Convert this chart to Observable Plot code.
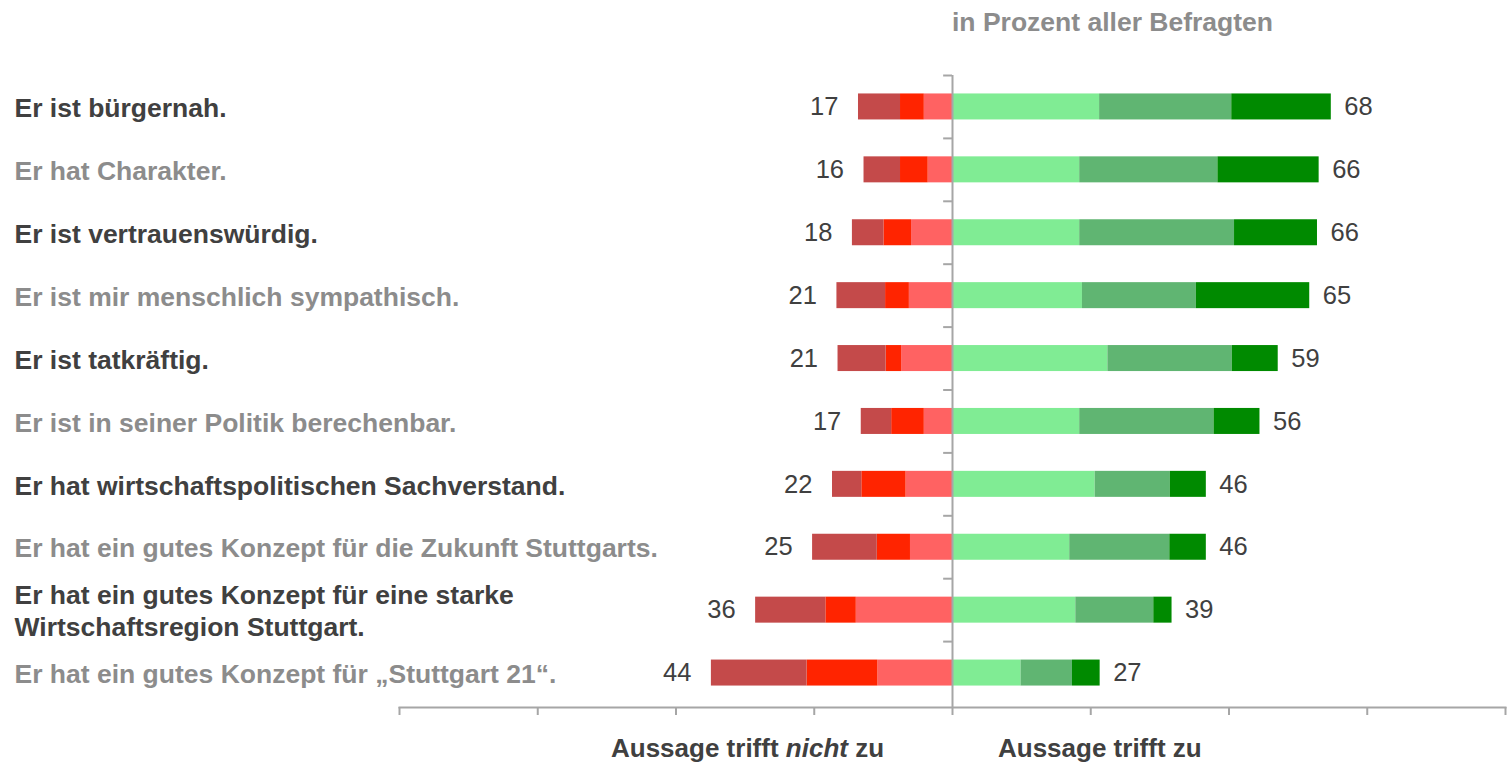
<!DOCTYPE html>
<html>
<head>
<meta charset="utf-8">
<script src="https://cdn.jsdelivr.net/npm/d3@7"></script>
<script src="https://cdn.jsdelivr.net/npm/@observablehq/plot@0.6"></script>
<style>
  body { margin: 0; background: #fff; font-family: "Liberation Sans", Arial, sans-serif; }
  #wrap { position: relative; width: 1508px; height: 762px; overflow: hidden; }
  #head { position: relative; height: 44px; }
  #head span { position: absolute; left: 952px; top: 9px; font-size: 26.5px; line-height: 26px; font-weight: bold; color: #8c8c8c; white-space: nowrap; }
  #foot { position: relative; height: 38px; }
  #foot span { position: absolute; top: 11px; font-size: 26px; line-height: 26px; font-weight: bold; color: #404040; white-space: nowrap; }
  #chart svg { display: block; }
</style>
</head>
<body>
<div id="wrap">
  <div id="head"><span>in Prozent aller Befragten</span></div>
  <div id="chart"></div>
  <div id="foot">
    <span style="left:611px">Aussage trifft <i>nicht</i> zu</span>
    <span style="left:998px">Aussage trifft zu</span>
  </div>
</div>
<script>
const categories = [
  "Er ist bürgernah.",
  "Er hat Charakter.",
  "Er ist vertrauenswürdig.",
  "Er ist mir menschlich sympathisch.",
  "Er ist tatkräftig.",
  "Er ist in seiner Politik berechenbar.",
  "Er hat wirtschaftspolitischen Sachverstand.",
  "Er hat ein gutes Konzept für die Zukunft Stuttgarts.",
  "Er hat ein gutes Konzept für eine starke\nWirtschaftsregion Stuttgart.",
  "Er hat ein gutes Konzept für „Stuttgart 21“."
];
const totalsNeg = [17, 16, 18, 21, 21, 17, 22, 25, 36, 44];
const totalsPos = [68, 66, 66, 65, 59, 56, 46, 46, 39, 27];

// negative side (from centre outwards)
const lightRed  = [5.1, 4.4, 7.4, 7.8, 9.2, 5.1, 8.4, 7.6, 17.4, 13.5];
const red       = [4.3, 5.0, 5.0, 4.3, 2.8, 5.9, 8.0, 6.0, 5.5, 12.8];
const darkRed   = [7.6, 6.6, 5.7, 8.8, 8.7, 5.5, 5.3, 11.7, 12.7, 17.3];
// positive side (from centre outwards)
const lightGreen = [26.6, 23.0, 23.0, 23.5, 28.1, 23.0, 25.8, 21.2, 22.3, 12.4];
const midGreen   = [23.9, 25.0, 28.0, 20.6, 22.5, 24.3, 13.6, 18.1, 14.1, 9.3];
const darkGreen  = [18.0, 18.3, 15.0, 20.5, 8.3, 8.3, 6.5, 6.6, 3.3, 5.0];

const seriesNames = ["neg1", "neg2", "neg3", "pos1", "pos2", "pos3"];
const seriesColors = ["#ff6262", "#ff2400", "#c44a4a", "#80ec94", "#60b572", "#008a00"];
const seriesValues = [lightRed, red, darkRed, lightGreen, midGreen, darkGreen];
const seriesSign = [-1, -1, -1, 1, 1, 1];

const rows = [];
categories.forEach((c, i) => {
  seriesNames.forEach((s, k) => {
    rows.push({cat: c, series: s, value: seriesSign[k] * seriesValues[k][i]});
  });
});

const negSum = categories.map((c, i) => lightRed[i] + red[i] + darkRed[i]);
const posSum = categories.map((c, i) => lightGreen[i] + midGreen[i] + darkGreen[i]);

const H = 680, mTop = 31, mBottom = 17, yInsetBottom = 3;
const step = (H - mTop - mBottom - yInsetBottom) / categories.length;
const barH = 26;
const axisColor = "#a6a6a6";

const chart = Plot.plot({
  width: 1508,
  height: H,
  marginTop: mTop,
  marginBottom: mBottom,
  marginLeft: 399,
  marginRight: 3,
  style: {fontFamily: "Liberation Sans, Arial, sans-serif", background: "#fff"},
  x: {domain: [-100, 100], axis: null},
  y: {domain: categories, axis: null, padding: 0, round: false, insetBottom: yInsetBottom},
  color: {domain: seriesNames, range: seriesColors},
  marks: [
    Plot.barX(rows, Plot.stackX({
      y: "cat", x: "value", fill: "series", z: "series",
      insetTop: (step - barH) / 2, insetBottom: (step - barH) / 2
    })),
    Plot.ruleX([0], {stroke: axisColor, strokeWidth: 2}),
    Plot.ruleY(categories, {y: d => d, x1: -1.6, x2: 0, dy: -step / 2, stroke: axisColor, strokeWidth: 2}),
    Plot.axisX({ticks: d3.range(-100, 101, 25), tickFormat: () => "", label: null, tickSize: 8, stroke: axisColor, strokeWidth: 2}),
    Plot.frame({anchor: "bottom", stroke: axisColor, strokeWidth: 2}),
    Plot.text(categories, {
      y: d => d, text: d => d, frameAnchor: "left", dx: -385, textAnchor: "start",
      fontSize: 26.5, fontWeight: "bold", lineHeight: 1.2,
      fill: (d, i) => (i % 2 === 0 ? "#404040" : "#8c8c8c")
    }),
    Plot.text(categories, {
      y: d => d, x: (d, i) => -negSum[i], text: (d, i) => String(totalsNeg[i]),
      textAnchor: "end", dx: -20, fontSize: 25.5, fill: "#404040"
    }),
    Plot.text(categories, {
      y: d => d, x: (d, i) => posSum[i], text: (d, i) => String(totalsPos[i]),
      textAnchor: "start", dx: 13, fontSize: 25.5, fill: "#404040"
    })
  ]
});
document.getElementById("chart").appendChild(chart);
</script>
</body>
</html>
